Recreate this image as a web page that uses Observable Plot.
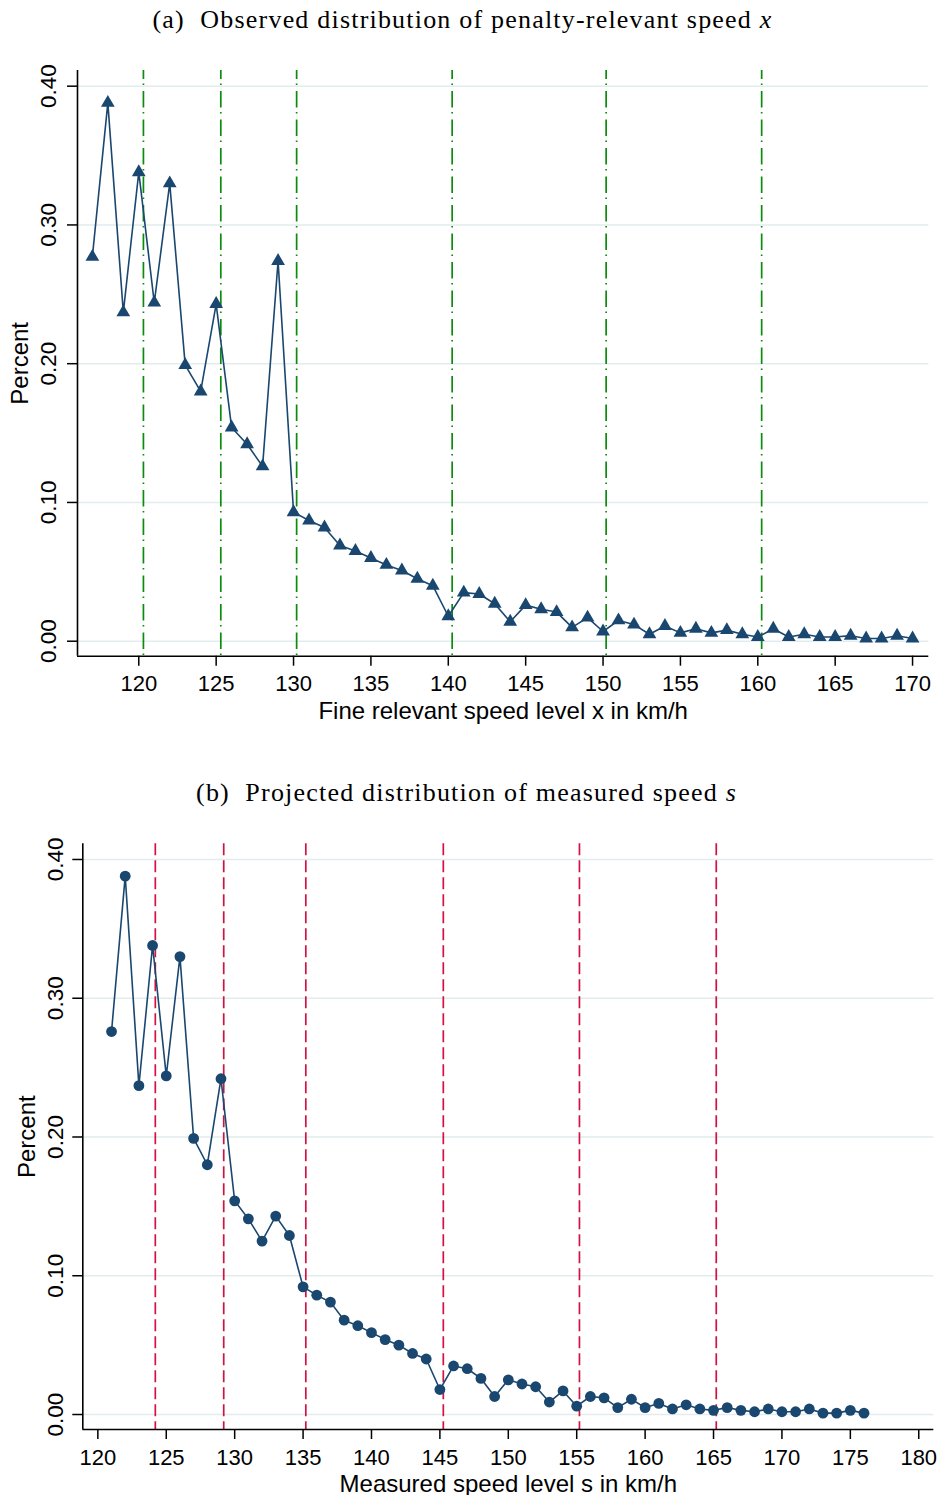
<!DOCTYPE html>
<html><head><meta charset="utf-8">
<script src="https://cdn.jsdelivr.net/npm/d3@7"></script>
<script src="https://cdn.jsdelivr.net/npm/@observablehq/plot@0.6"></script>
<style>
body{margin:0;background:#fff;}
#fig{position:relative;width:939px;height:1495px;overflow:hidden;background:#fff;}
.ttl{position:absolute;width:939px;text-align:center;font-family:"Liberation Serif","Times New Roman",serif;font-size:26px;letter-spacing:1.2px;color:#000;white-space:nowrap;line-height:30px;}
.ttl i{font-style:italic}
.plot{position:absolute;left:0;}
</style></head><body>
<div id="fig">
 <div class="ttl" style="top:5px;left:-7px;">(a)&nbsp; Observed distribution of penalty-relevant speed <i>x</i></div>
 <div id="pa" class="plot" style="top:40px"></div>
 <div class="ttl" style="top:778px;left:-3px;">(b)&nbsp; Projected distribution of measured speed <i>s</i></div>
 <div id="pb" class="plot" style="top:815px"></div>
</div>
<script>
// Panel (a): penalty-relevant speed x (km/h) and percent
const speedA = [117,118,119,120,121,122,123,124,125,126,127,128,129,130,131,132,133,134,135,136,137,138,139,140,141,142,143,144,145,146,147,148,149,150,151,152,153,154,155,156,157,158,159,160,161,162,163,164,165,166,167,168,169,170];
const pctA = [0.277,0.388,0.237,0.338,0.244,0.330,0.199,0.180,0.243,0.154,0.142,0.126,0.274,0.093,0.087,0.082,0.069,0.065,0.060,0.055,0.051,0.045,0.040,0.018,0.035,0.034,0.027,0.014,0.026,0.023,0.021,0.010,0.017,0.007,0.015,0.012,0.005,0.011,0.006,0.009,0.006,0.008,0.005,0.003,0.009,0.003,0.005,0.003,0.003,0.004,0.002,0.002,0.004,0.002];
const thresholdsA = [120.3,125.3,130.2,140.25,150.2,160.25];
const xTicksA = [120,125,130,135,140,145,150,155,160,165,170];

// Panel (b): measured speed s (km/h) and percent
const speedB = [121,122,123,124,125,126,127,128,129,130,131,132,133,134,135,136,137,138,139,140,141,142,143,144,145,146,147,148,149,150,151,152,153,154,155,156,157,158,159,160,161,162,163,164,165,166,167,168,169,170,171,172,173,174,175,176];
const pctB = [0.276,0.388,0.237,0.338,0.244,0.330,0.199,0.180,0.242,0.154,0.141,0.125,0.143,0.129,0.092,0.086,0.081,0.068,0.064,0.059,0.054,0.050,0.044,0.040,0.018,0.035,0.033,0.026,0.013,0.025,0.022,0.020,0.009,0.017,0.006,0.013,0.012,0.005,0.011,0.005,0.008,0.004,0.007,0.004,0.003,0.005,0.003,0.002,0.004,0.002,0.002,0.004,0.001,0.001,0.003,0.001];
const thresholdsB = [124.2,129.2,135.2,145.25,155.2,165.2];
const xTicksB = [120,125,130,135,140,145,150,155,160,165,170,175,180];

const yTicks = [0, 0.1, 0.2, 0.3, 0.4];
const yDomain = [-0.0108, 0.4113];
const xDomainA = [116.04, 171.05];
const xDomainB = [118.9, 181.1];

const NAVY = "#1a476f";

function panel(o) {
  const data = o.speed.map((s, i) => ({s, p: o.pct[i]}));
  return Plot.plot({
    width: 939, height: o.height,
    marginLeft: o.ml, marginRight: o.mr, marginTop: o.mt, marginBottom: o.mb,
    style: {fontFamily: "'Liberation Sans', Arial, sans-serif", fontSize: "22.5px", color: "#000", background: "#fff", overflow: "visible"},
    x: {domain: o.xDomain},
    y: {domain: yDomain},
    marks: [
      Plot.gridY(yTicks, {stroke: "#e2ebee", strokeOpacity: 1, strokeWidth: 1.5}),
      Plot.ruleX(o.thresholds, {stroke: o.vStroke, strokeWidth: 1.7, strokeDasharray: o.vDash, strokeDashoffset: o.vOffset}),
      Plot.line(data, {x: "s", y: "p", stroke: NAVY, strokeWidth: 1.6}),
      Plot.dot(data, {x: "s", y: "p", symbol: o.symbol, r: o.r, fill: NAVY, stroke: "none"}),
      Plot.ruleX([o.xDomain[0]], {stroke: "#000", strokeWidth: 1.6}),
      Plot.ruleY([yDomain[0]], {stroke: "#000", strokeWidth: 1.6}),
      Plot.axisY(yTicks, {tickFormat: d3.format(".2f"), tickSize: 10, tickPadding: o.yPad, tickRotate: -90, strokeWidth: 1.5, fontSize: 22.5, label: null}),
      Plot.axisY([], {tickSize: 0, label: "Percent", labelAnchor: "center", labelOffset: o.yLabOff, labelArrow: "none", fontSize: 24}),
      Plot.axisX(o.xTicks, {tickSize: 10, tickPadding: 9.5, strokeWidth: 1.5, fontSize: 22, label: null}),
      Plot.axisX([], {tickSize: 0, label: o.xLabel, labelAnchor: "center", labelOffset: o.xLabOff, labelArrow: "none", fontSize: 24})
    ]
  });
}

document.getElementById("pa").append(panel({
  speed: speedA, pct: pctA, thresholds: thresholdsA, xTicks: xTicksA, xDomain: xDomainA,
  height: 700, ml: 77, mr: 10.7, mt: 30, mb: 84.3,
  vStroke: "#0c8c0c", vDash: "16.5,4.5,1.5,6", vOffset: 7.5,
  symbol: "triangle", r: 5.1, yPad: 12, yLabOff: 67, xLabOff: 63,
  xLabel: "Fine relevant speed level x in km/h"
}));
document.getElementById("pb").append(panel({
  speed: speedB, pct: pctB, thresholds: thresholdsB, xTicks: xTicksB, xDomain: xDomainB,
  height: 680, ml: 82.3, mr: 5.7, mt: 28.3, mb: 66,
  vStroke: "#cf1443", vDash: "12,5", vOffset: 0,
  symbol: "circle", r: 5.4, yPad: 10, yLabOff: 65, xLabOff: 62,
  xLabel: "Measured speed level s in km/h"
}));
</script>
</body></html>
